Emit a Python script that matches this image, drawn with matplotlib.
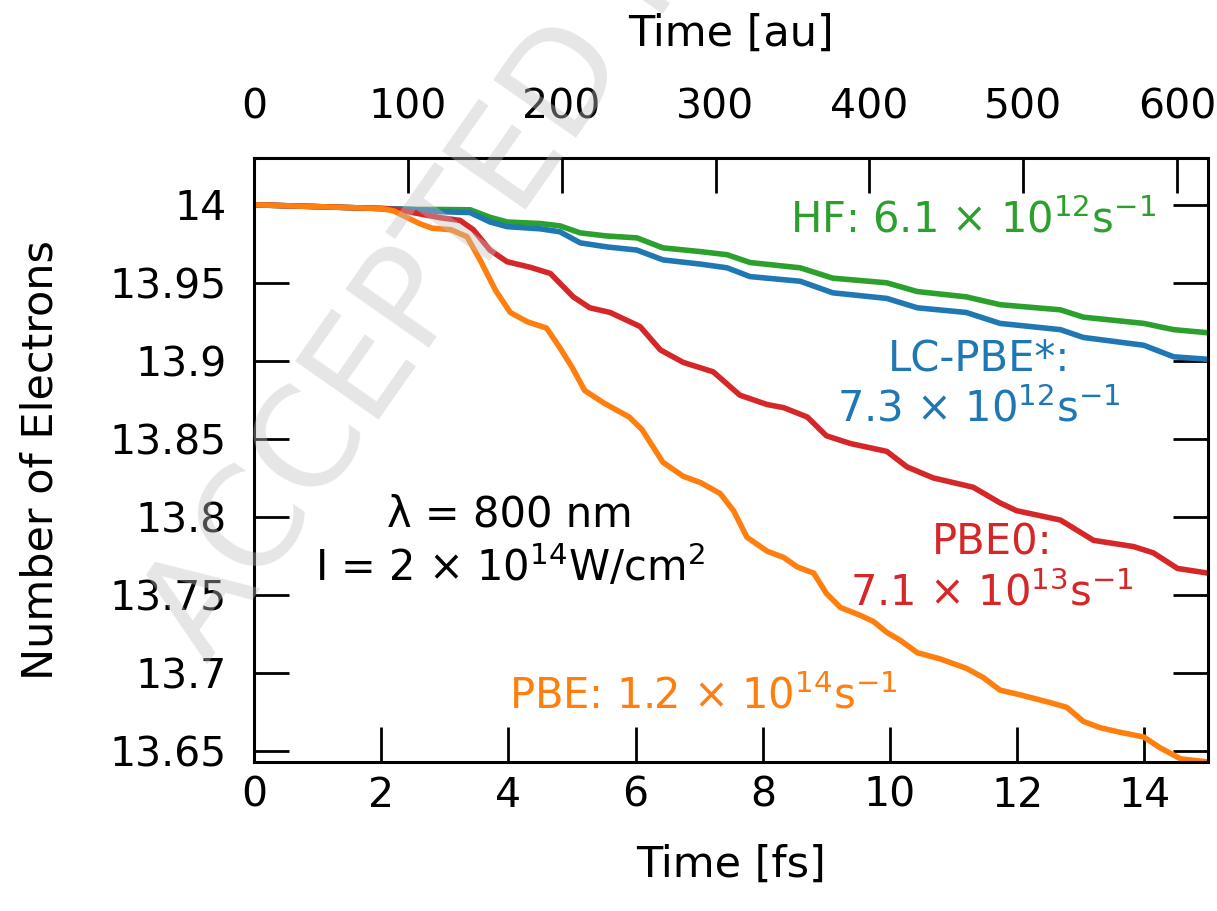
import numpy as np
import matplotlib.pyplot as plt
from matplotlib.ticker import FuncFormatter

# conversion fs -> au
FS2AU = 41.341

# PBE (orange)
t_pbe = [0, 1.0, 2.0, 2.2, 2.4, 2.6, 2.8, 3.1, 3.35, 3.55, 3.8, 4.03, 4.3, 4.6, 4.8, 5.0, 5.2,
         5.5, 5.9, 6.1, 6.43, 6.75, 7.02, 7.33, 7.54, 7.75, 8.07, 8.33, 8.54, 8.8, 9.0, 9.22,
         9.53, 9.74, 9.95, 10.16, 10.43, 10.79, 11.2, 11.47, 11.73, 12.05, 12.52, 12.78, 13.04,
         13.3, 13.62, 13.99, 14.25, 14.57, 15.0]
n_pbe = [14.0, 13.9988, 13.9976, 13.996, 13.992, 13.988, 13.985, 13.984, 13.9795, 13.965, 13.945,
         13.931, 13.925, 13.921, 13.909, 13.896, 13.881, 13.873, 13.864, 13.856, 13.835, 13.826,
         13.822, 13.815, 13.804, 13.787, 13.778, 13.774, 13.768, 13.764, 13.751, 13.742, 13.737,
         13.733, 13.726, 13.721, 13.713, 13.709, 13.703, 13.697, 13.689, 13.686, 13.681, 13.678,
         13.669, 13.665, 13.662, 13.659, 13.652, 13.645, 13.643]

# PBE0 (red)
t_pbe0 = [0, 1.0, 2.0, 2.25, 2.5, 2.93, 3.24, 3.45, 3.71, 3.98, 4.34, 4.66, 5.02, 5.28, 5.6, 6.07,
          6.39, 6.75, 7.22, 7.64, 8.07, 8.33, 8.7, 9.0, 9.38, 9.95, 10.27, 10.68, 11.31, 11.73,
          11.99, 12.68, 13.2, 13.83, 14.14, 14.52, 15.0]
n_pbe0 = [14.0, 13.9988, 13.9976, 13.997, 13.995, 13.9917, 13.990, 13.984, 13.971, 13.9635, 13.960,
          13.956, 13.941, 13.934, 13.931, 13.922, 13.907, 13.899, 13.893, 13.878, 13.872, 13.870,
          13.864, 13.852, 13.847, 13.842, 13.832, 13.825, 13.819, 13.809, 13.804, 13.798, 13.785,
          13.781, 13.777, 13.767, 13.764]

# HF (green) and LC-PBE* (blue)
t_hyb = [0, 1.0, 2.0, 2.5, 2.93, 3.4, 3.71, 3.98, 4.5, 4.81, 5.13, 5.55, 6.02, 6.43, 7.02, 7.44,
         7.8, 8.59, 9.1, 9.95, 10.43, 11.2, 11.73, 12.68, 13.04, 13.99, 14.46, 15.0]
n_hf = [14.0, 13.9988, 13.9976, 13.997, 13.997, 13.9968, 13.992, 13.989, 13.988, 13.9865, 13.982,
        13.980, 13.9788, 13.9724, 13.970, 13.968, 13.963, 13.9596, 13.953, 13.950, 13.9444, 13.941,
        13.936, 13.9327, 13.928, 13.924, 13.920, 13.918]
n_lc = [14.0, 13.9988, 13.9976, 13.997, 13.9956, 13.995, 13.989, 13.986, 13.9846, 13.9827, 13.9756,
        13.973, 13.971, 13.9647, 13.962, 13.9596, 13.954, 13.951, 13.9436, 13.940, 13.934, 13.931,
        13.924, 13.920, 13.915, 13.910, 13.9026, 13.901]

fig = plt.figure(figsize=(12.17, 9.11), dpi=100)
ax = fig.add_axes([0.2087, 0.1636, 0.7839, 0.663])

lw = 4
kw = dict(lw=lw, solid_joinstyle='round', solid_capstyle='round')
ax.plot(t_hyb, n_hf, color='#2ca02c', **kw)
ax.plot(t_hyb, n_lc, color='#1f77b4', **kw)
ax.plot(t_pbe0, n_pbe0, color='#d62728', **kw)
ax.plot(t_pbe, n_pbe, color='#ff7f0e', **kw)

ax.set_xlim(0, 15)
ax.set_ylim(13.643, 14.030)
ax.set_xticks(np.arange(0, 15, 2))
ax.set_yticks(np.arange(13.65, 14.001, 0.05))
ax.yaxis.set_major_formatter(FuncFormatter(lambda v, p: '%g' % round(v, 2)))

fs = 29.5
ax.tick_params(axis='both', direction='in', length=25, width=2, labelsize=fs)
ax.tick_params(axis='x', pad=10)
ax.tick_params(axis='y', pad=20, right=True)
for s in ax.spines.values():
    s.set_linewidth(2.2)

ax.set_xlabel('Time [fs]', fontsize=31, labelpad=20)
ax.set_ylabel('Number of Electrons', fontsize=31, labelpad=34)

top = ax.secondary_xaxis('top', functions=(lambda t: t * FS2AU, lambda a: a / FS2AU))
top.set_xticks(np.arange(0, 601, 100))
top.tick_params(direction='in', length=25, width=2, labelsize=fs, pad=22)
top.set_xlabel('Time [au]', fontsize=31, labelpad=30)

afs = 30
ax.text(11.3, 13.990, 'HF: 6.1 $\\times$ 10$^{12}$s$^{-1}$', color='#2ca02c',
        fontsize=afs, ha='center', va='center')
ax.text(11.4, 13.885, 'LC-PBE*:\n7.3 $\\times$ 10$^{12}$s$^{-1}$', color='#1f77b4',
        fontsize=afs, ha='center', va='center', linespacing=1.25)
ax.text(11.6, 13.767, 'PBE0:\n7.1 $\\times$ 10$^{13}$s$^{-1}$', color='#d62728',
        fontsize=afs, ha='center', va='center', linespacing=1.25)
ax.text(7.06, 13.685, 'PBE: 1.2 $\\times$ 10$^{14}$s$^{-1}$', color='#ff7f0e',
        fontsize=afs, ha='center', va='center')
ax.text(4.03, 13.784, 'λ = 800 nm\nI = 2 $\\times$ 10$^{14}$W/cm$^{2}$', color='black',
        fontsize=afs, ha='center', va='center', linespacing=1.2)

# watermark
fig.text(0.17, 0.27, 'ACCEPTED MANUSCRIPT', fontsize=100, color='#c0c0c0', alpha=0.4,
         rotation=55, rotation_mode='anchor', ha='left', va='baseline', zorder=10)

fig.savefig('out.png', dpi=100)
